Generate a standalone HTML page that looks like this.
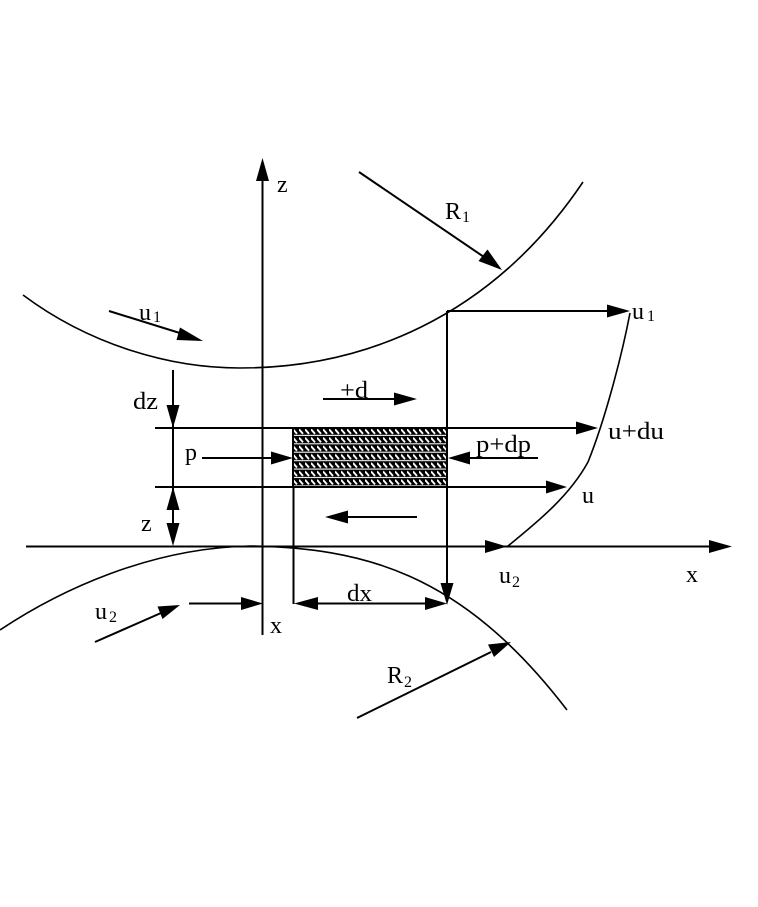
<!DOCTYPE html>
<html><head><meta charset="utf-8"><style>
html,body{margin:0;padding:0;background:#fff;}
svg{display:block;}
text{font-family:"Liberation Serif","Times New Roman",serif;fill:#000;}
</style></head><body>
<svg width="758" height="907" viewBox="0 0 758 907" xmlns="http://www.w3.org/2000/svg">
<defs>
<pattern id="h" x="293" y="428" width="6" height="8.43" patternUnits="userSpaceOnUse">
<rect x="0" y="0" width="6" height="8.43" fill="#000"/>
<rect x="0" y="6.8" width="6" height="1.1" fill="#fff"/>
<path d="M0,1.3 L4,5.8" stroke="#fff" stroke-width="1.9" fill="none"/>
</pattern>
</defs>
<g stroke="#000" fill="none" stroke-width="1.6">
<!-- upper curve -->
<path d="M23,295 C90,345 170,368 240,368 C360,368 490,320 583,182"/>
<!-- lower curve -->
<path d="M0,630 C60,590 150,548 250,546 C360,548 460,570 567,710"/>
<!-- velocity profile -->
<path d="M630,313 C622,355 605,420 588,462 C570,495 540,520 508,546"/>
</g>
<g stroke="#000" fill="none" stroke-width="2">
<line x1="262.5" y1="178" x2="262.5" y2="635"/>
<line x1="26" y1="546.5" x2="712" y2="546.5"/>
<line x1="447" y1="311" x2="447" y2="586"/>
<line x1="293.5" y1="428" x2="293.5" y2="604"/>
<line x1="447" y1="311" x2="610" y2="311"/>
<line x1="155" y1="428" x2="580" y2="428"/>
<line x1="155" y1="487" x2="550" y2="487"/>
<line x1="173" y1="370" x2="173" y2="527"/>
<line x1="202" y1="458" x2="275" y2="458"/>
<line x1="538" y1="458" x2="468" y2="458"/>
<line x1="323" y1="399" x2="396" y2="399"/>
<line x1="417" y1="517" x2="346" y2="517"/>
<line x1="189" y1="603.5" x2="243" y2="603.5"/>
<line x1="316" y1="603.5" x2="428" y2="603.5"/>
<line x1="109" y1="311" x2="183" y2="334"/>
<line x1="359" y1="172" x2="484" y2="257"/>
<line x1="95" y1="642" x2="161" y2="613"/>
<line x1="357" y1="718" x2="491" y2="652"/>
</g>
<rect x="293" y="428" width="154" height="59" fill="url(#h)"/>
<rect x="293" y="428" width="154" height="59" fill="none" stroke="#000" stroke-width="2"/>
<g fill="#000" stroke="none">
<polygon points="262.5,158 256,181 269,181"/>
<polygon points="732,546.5 709,540 709,553"/>
<polygon points="507,546.5 485,540 485,553"/>
<polygon points="630,311 607,304.5 607,317.5"/>
<polygon points="598,428 576,421.5 576,434.5"/>
<polygon points="567,487 546,480.5 546,493.5"/>
<polygon points="173,428 166.5,405 179.5,405"/>
<polygon points="173,487 166.5,510 179.5,510"/>
<polygon points="173,546 166.5,523 179.5,523"/>
<polygon points="293,458 271,451.5 271,464.5"/>
<polygon points="448,458 470,451.5 470,464.5"/>
<polygon points="417,399 394,392.5 394,405.5"/>
<polygon points="325,517 348,510.5 348,523.5"/>
<polygon points="263,603.5 241,597 241,610"/>
<polygon points="294,603.5 318,597 318,610"/>
<polygon points="447,603.5 425,597 425,610"/>
<polygon points="447,605 440.5,583 453.5,583"/>
<polygon points="203,341 180,327.5 176.5,340"/>
<polygon points="502,270 487.5,249.5 478.5,261"/>
<polygon points="180,605 157.5,606.5 162.5,619"/>
<polygon points="511,642 488,644.5 494,657"/>
</g>
<g font-size="24" font-family="Liberation Serif, serif">
<text x="277" y="192">z</text>
<text x="445" y="219">R</text><text x="462" y="222" font-size="16">1</text>
<text x="139" y="320">u</text><text x="153" y="322" font-size="16">1</text>
<text x="632" y="319">u</text><text x="647" y="321" font-size="16">1</text>
<text x="340" y="398" textLength="28" lengthAdjust="spacingAndGlyphs">+d</text>
<text x="133" y="409" textLength="25" lengthAdjust="spacingAndGlyphs">dz</text>
<text x="608" y="439" textLength="56" lengthAdjust="spacingAndGlyphs">u+du</text>
<text x="185" y="460">p</text>
<text x="476" y="452" textLength="55" lengthAdjust="spacingAndGlyphs">p+dp</text>
<text x="582" y="503">u</text>
<text x="141" y="531">z</text>
<text x="499" y="583">u</text><text x="512" y="587" font-size="16">2</text>
<text x="686" y="582">x</text>
<text x="347" y="601" textLength="25" lengthAdjust="spacingAndGlyphs">dx</text>
<text x="95" y="619">u</text><text x="109" y="622" font-size="16">2</text>
<text x="270" y="633">x</text>
<text x="387" y="683">R</text><text x="404" y="687" font-size="16">2</text>
</g>
</svg>
</body></html>
